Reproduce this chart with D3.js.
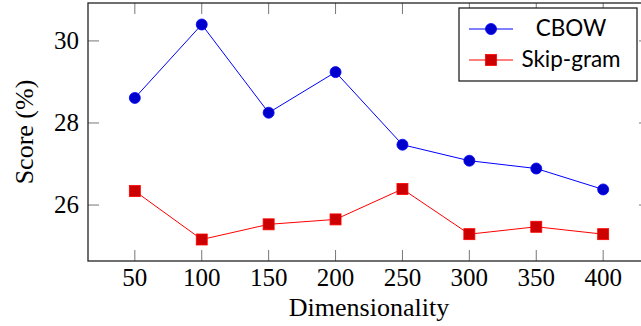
<!DOCTYPE html>
<html>
<head>
<meta charset="utf-8">
<script src="https://cdn.jsdelivr.net/npm/d3@7"></script>
<style>
  body { margin: 0; background: #fff; }
  svg { display: block; }
</style>
</head>
<body>
<svg id="chart" width="641" height="326"></svg>
<script>
// data
const dims = [50, 100, 150, 200, 250, 300, 350, 400];
const cbow = [28.61, 30.40, 28.25, 29.24, 27.47, 27.08, 26.89, 26.38];
const skipgram = [26.34, 25.16, 25.53, 25.65, 26.39, 25.29, 25.47, 25.29];
const xTicks = [50, 100, 150, 200, 250, 300, 350, 400];
const yTicks = [26, 28, 30];

const svg = d3.select("#chart");
// plot box (right edge runs past the window, as in the picture)
const pLeft = 88, pRight = 650, pTop = 3, pBottom = 261;

// pgfplots style: limits enlarged by 10% of the data range
const xPad = (d3.max(dims) - d3.min(dims)) * 0.1;
const allY = cbow.concat(skipgram);
const yPad = (d3.max(allY) - d3.min(allY)) * 0.1;

const x = d3.scaleLinear()
    .domain([d3.min(dims) - xPad, d3.max(dims) + xPad])
    .range([pLeft, pRight]);
const y = d3.scaleLinear()
    .domain([d3.min(allY) - yPad, d3.max(allY) + yPad])
    .range([pBottom, pTop]);

const serif = '"Liberation Serif"';
const sans = '"Lato"';

// ticks, inward on all four sides
const tickLen = 11;
const ticks = svg.append("g").attr("stroke", "#777").attr("stroke-width", 1);
xTicks.forEach(t => {
    ticks.append("line").attr("x1", x(t)).attr("x2", x(t)).attr("y1", pBottom).attr("y2", pBottom - tickLen);
    ticks.append("line").attr("x1", x(t)).attr("x2", x(t)).attr("y1", pTop).attr("y2", pTop + tickLen);
});
yTicks.forEach(t => {
    ticks.append("line").attr("x1", pLeft).attr("x2", pLeft + tickLen).attr("y1", y(t)).attr("y2", y(t));
    ticks.append("line").attr("x1", pRight).attr("x2", pRight - tickLen).attr("y1", y(t)).attr("y2", y(t));
});

// frame
svg.append("rect")
    .attr("x", pLeft).attr("y", pTop)
    .attr("width", pRight - pLeft).attr("height", pBottom - pTop)
    .attr("fill", "none").attr("stroke", "#222").attr("stroke-width", 1.3);

// tick labels
svg.append("g").selectAll("text").data(xTicks).join("text")
    .style("font-family", serif).style("font-size", "25px")
    .attr("x", d => x(d)).attr("y", 286)
    .attr("text-anchor", "middle")
    .text(d => d);
svg.append("g").selectAll("text").data(yTicks).join("text")
    .style("font-family", serif).style("font-size", "25px")
    .attr("x", 79).attr("y", d => y(d) + 8)
    .attr("text-anchor", "end")
    .text(d => d);

// axis titles
svg.append("text")
    .style("font-family", serif).style("font-size", "26px")
    .attr("x", (pLeft + pRight) / 2).attr("y", 316)
    .attr("text-anchor", "middle")
    .text("Dimensionality");
svg.append("text")
    .style("font-family", serif).style("font-size", "26px")
    .attr("transform", `translate(33,${(pTop + pBottom) / 2}) rotate(-90)`)
    .attr("text-anchor", "middle")
    .text("Score (%)");

// series
const line = d3.line().x((d, i) => x(dims[i])).y(d => y(d));

svg.append("path").datum(cbow)
    .attr("d", line).attr("fill", "none").attr("stroke", "#0000ff").attr("stroke-width", 1);
svg.append("g").selectAll("circle").data(cbow).join("circle")
    .attr("cx", (d, i) => x(dims[i])).attr("cy", d => y(d)).attr("r", 5.5)
    .attr("fill", "#0000cc").attr("stroke", "#0000ff").attr("stroke-width", 0.8);

svg.append("path").datum(skipgram)
    .attr("d", line).attr("fill", "none").attr("stroke", "#ff0000").attr("stroke-width", 1);
svg.append("g").selectAll("rect").data(skipgram).join("rect")
    .attr("x", (d, i) => x(dims[i]) - 5.5).attr("y", d => y(d) - 5.5)
    .attr("width", 11).attr("height", 11)
    .attr("fill", "#cc0000").attr("stroke", "#ff0000").attr("stroke-width", 0.8);

// legend
const lg = svg.append("g");
lg.append("rect")
    .attr("x", 459).attr("y", 8).attr("width", 178).attr("height", 73)
    .attr("fill", "#fff").attr("stroke", "#222").attr("stroke-width", 1.3);

lg.append("line").attr("x1", 469).attr("x2", 513).attr("y1", 29).attr("y2", 29)
    .attr("stroke", "#0000ff").attr("stroke-width", 1);
lg.append("circle").attr("cx", 491).attr("cy", 29).attr("r", 5.5)
    .attr("fill", "#0000cc").attr("stroke", "#0000ff").attr("stroke-width", 0.8);
lg.append("text")
    .style("font-family", sans).style("font-size", "22.5px")
    .attr("x", 571).attr("y", 36)
    .attr("text-anchor", "middle")
    .text("CBOW");

lg.append("line").attr("x1", 469).attr("x2", 513).attr("y1", 60).attr("y2", 60)
    .attr("stroke", "#ff0000").attr("stroke-width", 1);
lg.append("rect").attr("x", 485.5).attr("y", 54.5).attr("width", 11).attr("height", 11)
    .attr("fill", "#cc0000").attr("stroke", "#ff0000").attr("stroke-width", 0.8);
lg.append("text")
    .style("font-family", sans).style("font-size", "22.5px")
    .attr("x", 571).attr("y", 67)
    .attr("text-anchor", "middle")
    .text("Skip-gram");
</script>
</body>
</html>
